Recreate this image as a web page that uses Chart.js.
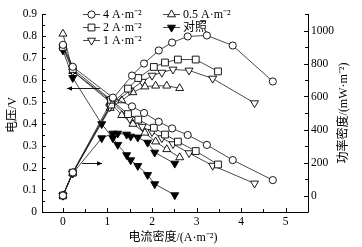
<!DOCTYPE html>
<html>
<head>
<meta charset="utf-8">
<script src="https://cdn.jsdelivr.net/npm/chart.js@4.4.0/dist/chart.umd.min.js"></script>
<style>
  html, body { margin: 0; padding: 0; background: #fff; }
</style>
</head>
<body>
<canvas id="polarisationChart" width="362" height="247"></canvas>
<script>
// current density (A/m2), cell voltage (V), power density (mW/m2)
const current4A = [0, 0.22, 1.12, 1.55, 1.82, 2.15, 2.45, 2.80, 3.23, 3.81, 4.71];
const voltage4A = [0.76, 0.66, 0.52, 0.48, 0.45, 0.41, 0.38, 0.35, 0.305, 0.236, 0.145];
const power4A = [0, 140, 588, 727, 800, 879, 927, 964, 970, 909, 691];

const current2A = [0, 0.22, 1.08, 1.46, 1.69, 2.04, 2.29, 2.58, 2.98, 3.48];
const voltage2A = [0.75, 0.65, 0.51, 0.445, 0.42, 0.383, 0.352, 0.32, 0.277, 0.216];
const power2A = [0, 138, 551, 648, 712, 779, 806, 824, 824, 752];

const current1A = [0, 0.22, 1.05, 1.50, 1.78, 2.00, 2.22, 2.47, 2.83, 3.36, 4.30];
const voltage1A = [0.75, 0.64, 0.51, 0.424, 0.388, 0.364, 0.336, 0.309, 0.268, 0.211, 0.130];
const power1A = [0, 136, 536, 636, 690, 727, 745, 764, 758, 709, 560];

const current05A = [0, 0.22, 1.06, 1.32, 1.57, 1.84, 2.08, 2.33, 2.62];
const voltage05A = [0.81, 0.64, 0.50, 0.44, 0.40, 0.36, 0.32, 0.285, 0.248];
const power05A = [0, 136, 530, 576, 625, 660, 665, 665, 650];

const currentCtrl = [0, 0.22, 0.87, 1.12, 1.23, 1.43, 1.52, 1.68, 1.90, 2.06, 2.51];
const voltageCtrl = [0.735, 0.61, 0.40, 0.336, 0.306, 0.259, 0.236, 0.21, 0.169, 0.127, 0.077];
const powerCtrl = [0, 134, 348, 376, 376, 370, 358, 352, 321, 261, 194];

const seriesLabels = ['4 A·m⁻²', '2 A·m⁻²', '1 A·m⁻²', '0.5 A·m⁻²', '对照'];
const xTickValues = [0, 1, 2, 3, 4, 5];
const voltageTickValues = [0, 0.1, 0.2, 0.3, 0.4, 0.5, 0.6, 0.7, 0.8, 0.9];
const powerTickValues = [0, 200, 400, 600, 800, 1000];

const FONT = "'Liberation Serif', 'Noto Sans CJK SC', serif";

const seriesData = [
    {label: seriesLabels[0], x: current4A, v: voltage4A, p: power4A},
    {label: seriesLabels[1], x: current2A, v: voltage2A, p: power2A},
    {label: seriesLabels[2], x: current1A, v: voltage1A, p: power1A},
    {label: seriesLabels[3], x: current05A, v: voltage05A, p: power05A},
    {label: seriesLabels[4], x: currentCtrl, v: voltageCtrl, p: powerCtrl}
];

// marker styles, same order as seriesData
const markerStyles = [
    {pointStyle: 'circle', rotation: 0, radius: 3.6, fill: '#fff'},
    {pointStyle: 'rect', rotation: 0, radius: 4.8, fill: '#fff'},
    {pointStyle: 'triangle', rotation: 180, radius: 4.6, fill: '#fff'},
    {pointStyle: 'triangle', rotation: 0, radius: 4.6, fill: '#fff'},
    {pointStyle: 'triangle', rotation: 180, radius: 4.6, fill: '#000'}
];

function toPoints(xs, ys) {
    return xs.map((x, i) => ({x: x, y: ys[i]}));
}

const datasets = [];
seriesData.forEach((s, i) => {
    const m = markerStyles[i];
    ['v', 'p'].forEach(kind => {
        datasets.push({
            label: s.label,
            data: toPoints(s.x, s[kind]),
            yAxisID: kind === 'v' ? 'yV' : 'yP',
            showLine: true,
            borderColor: '#1a1a1a',
            borderWidth: 0.8,
            pointStyle: m.pointStyle,
            rotation: m.rotation,
            pointRadius: m.radius,
            pointBackgroundColor: m.fill,
            pointBorderColor: '#000',
            pointBorderWidth: 0.9
        });
    });
});

const decorPlugin = {
    id: 'decor',
    afterDraw(chart) {
        const {ctx, chartArea: a, scales} = chart;
        const sx = scales.x, sv = scales.yV, sp = scales.yP;
        ctx.save();
        ctx.strokeStyle = '#000';
        ctx.fillStyle = '#000';
        ctx.lineWidth = 1;

        // axis lines (no top frame)
        ctx.beginPath();
        ctx.moveTo(a.left + 0.5, a.top);
        ctx.lineTo(a.left + 0.5, a.bottom + 0.5);
        ctx.lineTo(a.right + 0.5, a.bottom + 0.5);
        ctx.lineTo(a.right + 0.5, a.top);
        ctx.stroke();

        // inward ticks, major and minor
        ctx.beginPath();
        for (let v = 0; v <= 5.5001; v += 0.5) {
            const px = Math.round(sx.getPixelForValue(v)) + 0.5;
            const len = Math.abs(v - Math.round(v)) < 1e-6 ? 4 : 3;
            ctx.moveTo(px, a.bottom);
            ctx.lineTo(px, a.bottom - len);
        }
        for (let v = 0; v <= 0.9001; v += 0.05) {
            const py = Math.round(sv.getPixelForValue(v)) + 0.5;
            const len = Math.abs(v * 10 - Math.round(v * 10)) < 1e-6 ? 4 : 3;
            ctx.moveTo(a.left, py);
            ctx.lineTo(a.left + len, py);
        }
        for (let v = 0; v <= 1100; v += 100) {
            const py = Math.round(sp.getPixelForValue(v)) + 0.5;
            const len = v % 200 === 0 ? 4 : 3;
            ctx.moveTo(a.right, py);
            ctx.lineTo(a.right - len, py);
        }
        ctx.stroke();

        // arrows pointing to the axis each curve family belongs to
        function arrow(x0, x1, y) {
            ctx.lineWidth = 0.9;
            ctx.beginPath();
            ctx.moveTo(x0, y);
            ctx.lineTo(x1, y);
            ctx.stroke();
            const d = x1 > x0 ? 1 : -1;
            ctx.beginPath();
            ctx.moveTo(x1, y);
            ctx.lineTo(x1 - d * 5, y - 2.3);
            ctx.lineTo(x1 - d * 5, y + 2.3);
            ctx.closePath();
            ctx.fill();
        }
        arrow(sx.getPixelForValue(0.83), sx.getPixelForValue(0.09), Math.round(sv.getPixelForValue(0.565)) + 0.5);
        arrow(sx.getPixelForValue(0.43), sx.getPixelForValue(0.88), Math.round(sp.getPixelForValue(194)) + 0.5);

        // axis titles
        ctx.font = '12px ' + FONT;
        ctx.textAlign = 'center';
        ctx.textBaseline = 'middle';
        const midY = (a.top + a.bottom) / 2;
        ctx.fillText('电流密度/(A·m⁻²)', (a.left + a.right) / 2 - 2, 238);
        ctx.save();
        ctx.translate(13, midY + 2);
        ctx.rotate(-Math.PI / 2);
        ctx.fillText('电压/V', 0, 0);
        ctx.restore();
        ctx.save();
        ctx.translate(344, midY);
        ctx.rotate(-Math.PI / 2);
        ctx.fillText('功率密度/(mW·m⁻²)', 0, 0);
        ctx.restore();

        // legend in two columns
        const cols = [[0, 1, 2], [3, 4]];
        const colX = [83, 163];
        const rowY = [14, 27, 40];
        ctx.textAlign = 'left';
        ctx.font = '12px ' + FONT;
        cols.forEach((col, c) => {
            col.forEach((idx, r) => {
                const lx = colX[c], ly = rowY[r] + 0.5;
                const m = markerStyles[idx];
                ctx.lineWidth = 0.8;
                ctx.strokeStyle = '#1a1a1a';
                ctx.beginPath();
                ctx.moveTo(lx, ly);
                ctx.lineTo(lx + 17, ly);
                ctx.stroke();
                ctx.fillStyle = m.fill;
                ctx.strokeStyle = '#000';
                ctx.lineWidth = 0.9;
                Chart.helpers.drawPoint(ctx, {
                    pointStyle: m.pointStyle,
                    rotation: m.rotation,
                    radius: m.radius,
                    borderWidth: 0.9
                }, lx + 8.5, ly);
                ctx.fillStyle = '#000';
                ctx.fillText(seriesLabels[idx], lx + 20, ly);
            });
        });
        ctx.restore();
    }
};

const tickFont = {family: FONT, size: 11.5};

const ctx = document.getElementById('polarisationChart').getContext('2d');
new Chart(ctx, {
    type: 'scatter',
    data: {datasets: datasets},
    options: {
        responsive: false,
        animation: false,
        devicePixelRatio: 1,
        layout: {padding: {top: 14, left: 0, right: 0, bottom: 0}},
        plugins: {
            legend: {display: false},
            tooltip: {enabled: false}
        },
        scales: {
            x: {
                type: 'linear',
                min: -0.47,
                max: 5.5,
                afterBuildTicks: s => { s.ticks = xTickValues.map(v => ({value: v})); },
                afterFit: s => { s.height = 35; },
                ticks: {font: tickFont, color: '#000', padding: 3, maxRotation: 0, autoSkip: false,
                    callback: v => String(v)},
                grid: {display: false, drawTicks: false},
                border: {display: false}
            },
            yV: {
                type: 'linear',
                position: 'left',
                min: 0,
                max: 0.9,
                afterBuildTicks: s => { s.ticks = voltageTickValues.map(v => ({value: v})); },
                afterFit: s => { s.width = 42; },
                ticks: {font: tickFont, color: '#000', padding: 5, autoSkip: false,
                    callback: v => v === 0 ? '0' : v.toFixed(1)},
                grid: {display: false, drawTicks: false},
                border: {display: false}
            },
            yP: {
                type: 'linear',
                position: 'right',
                min: -100,
                max: 1100,
                afterBuildTicks: s => { s.ticks = powerTickValues.map(v => ({value: v})); },
                afterFit: s => { s.width = 54; },
                ticks: {font: tickFont, color: '#000', padding: 3, autoSkip: false,
                    callback: v => String(v)},
                grid: {display: false, drawTicks: false},
                border: {display: false}
            }
        }
    },
    plugins: [decorPlugin]
});
</script>
</body>
</html>
